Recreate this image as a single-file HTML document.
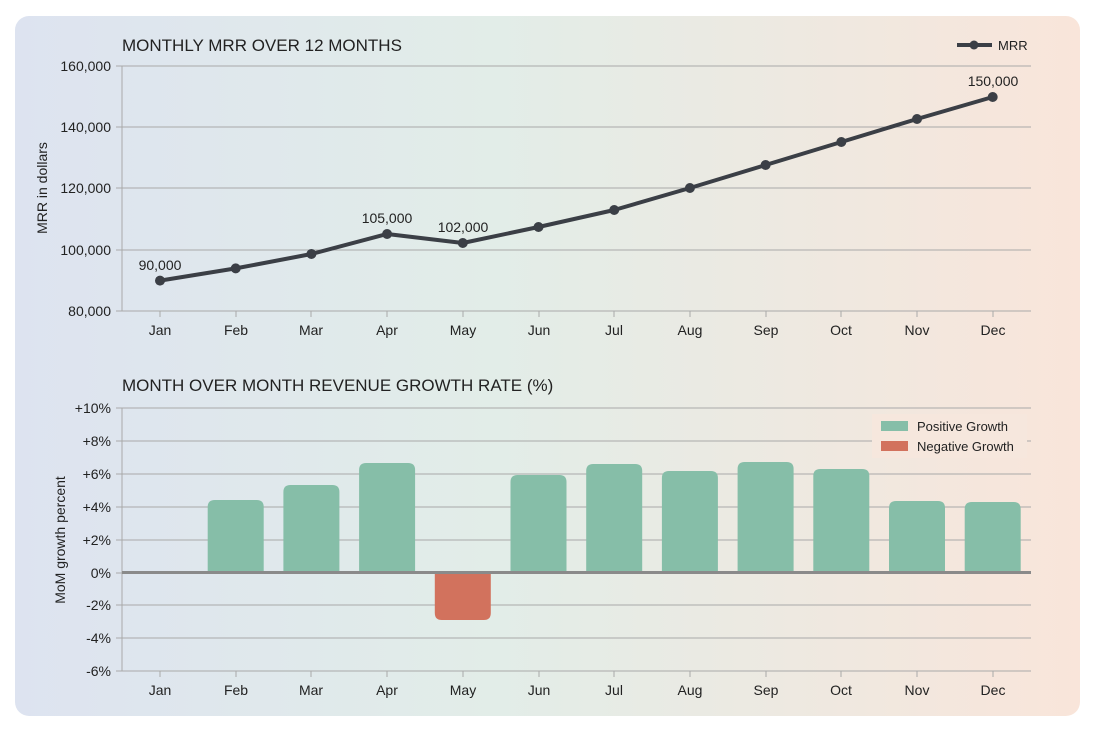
<!DOCTYPE html>
<html><head><meta charset="utf-8"><style>
html,body{margin:0;padding:0;background:#fff;width:1096px;height:735px;overflow:hidden}
svg{display:block;font-family:"Liberation Sans",sans-serif}
</style></head><body>
<svg width="1096" height="735" viewBox="0 0 1096 735">
<defs>
<linearGradient id="bg" x1="0" y1="0" x2="1" y2="0">
<stop offset="0" stop-color="#dde3f0"/>
<stop offset="0.45" stop-color="#e2ede8"/>
<stop offset="1" stop-color="#f9e5da"/>
</linearGradient>
</defs>
<rect x="15" y="16" width="1065" height="700" rx="14" fill="url(#bg)"/>
<g fill="#222" font-size="17"><text x="122" y="51">MONTHLY MRR OVER 12 MONTHS</text>
<text x="122" y="391">MONTH OVER MONTH REVENUE GROWTH RATE (%)</text></g>
<!-- top grid -->
<g stroke="#a9a9a9" stroke-width="1">
<line x1="122" y1="66" x2="1031" y2="66"/><line x1="122" y1="127" x2="1031" y2="127"/><line x1="122" y1="188" x2="1031" y2="188"/><line x1="122" y1="250" x2="1031" y2="250"/><line x1="122" y1="311" x2="1031" y2="311"/>
<line x1="122" y1="66" x2="122" y2="311"/>
<line x1="116" y1="66" x2="122" y2="66"/><line x1="116" y1="127" x2="122" y2="127"/><line x1="116" y1="188" x2="122" y2="188"/><line x1="116" y1="250" x2="122" y2="250"/><line x1="116" y1="311" x2="122" y2="311"/>
</g>
<g font-size="14" fill="#222" text-anchor="end">
<text x="111" y="71">160,000</text><text x="111" y="132">140,000</text><text x="111" y="193">120,000</text><text x="111" y="255">100,000</text><text x="111" y="316">80,000</text></g>
<text transform="translate(47,188) rotate(-90)" text-anchor="middle" font-size="14" fill="#222">MRR in dollars</text>
<g font-size="14" fill="#222" text-anchor="middle">
<text x="160" y="335">Jan</text><text x="236" y="335">Feb</text><text x="311" y="335">Mar</text><text x="387" y="335">Apr</text><text x="463" y="335">May</text><text x="539" y="335">Jun</text><text x="614" y="335">Jul</text><text x="690" y="335">Aug</text><text x="766" y="335">Sep</text><text x="841" y="335">Oct</text><text x="917" y="335">Nov</text><text x="993" y="335">Dec</text>
</g>
<polyline fill="none" stroke="#3b3f46" stroke-width="4" stroke-linejoin="round" points="160,280.6 235.7,268.4 311.4,254 387.1,234 462.8,243 538.5,227 614.2,210 689.9,188 765.6,165 841.3,142 917,119 992.7,97"/>
<g fill="#3b3f46">
<circle cx="160" cy="280.6" r="5"/><circle cx="235.7" cy="268.4" r="5"/><circle cx="311.4" cy="254" r="5"/><circle cx="387.1" cy="234" r="5"/><circle cx="462.8" cy="243" r="5"/><circle cx="538.5" cy="227" r="5"/><circle cx="614.2" cy="210" r="5"/><circle cx="689.9" cy="188" r="5"/><circle cx="765.6" cy="165" r="5"/><circle cx="841.3" cy="142" r="5"/><circle cx="917" cy="119" r="5"/><circle cx="992.7" cy="97" r="5"/>
</g>
<g font-size="14" fill="#222" text-anchor="middle">
<text x="160" y="270">90,000</text><text x="387" y="223">105,000</text><text x="463" y="232">102,000</text><text x="993" y="86">150,000</text></g>
<line x1="957" y1="45" x2="992" y2="45" stroke="#3b3f46" stroke-width="4"/><circle cx="974" cy="45" r="4.5" fill="#3b3f46"/>
<text x="998" y="50" font-size="13" fill="#222">MRR</text>
<!-- bottom grid -->
<g stroke="#a9a9a9" stroke-width="1">
<line x1="122" y1="408" x2="1031" y2="408"/><line x1="122" y1="441" x2="1031" y2="441"/><line x1="122" y1="474" x2="1031" y2="474"/><line x1="122" y1="507" x2="1031" y2="507"/><line x1="122" y1="540" x2="1031" y2="540"/><line x1="122" y1="605" x2="1031" y2="605"/><line x1="122" y1="638" x2="1031" y2="638"/><line x1="122" y1="671" x2="1031" y2="671"/>
<line x1="122" y1="408" x2="122" y2="671"/>
<line x1="116" y1="408" x2="122" y2="408"/><line x1="116" y1="441" x2="122" y2="441"/><line x1="116" y1="474" x2="122" y2="474"/><line x1="116" y1="507" x2="122" y2="507"/><line x1="116" y1="540" x2="122" y2="540"/><line x1="116" y1="573" x2="122" y2="573"/><line x1="116" y1="605" x2="122" y2="605"/><line x1="116" y1="638" x2="122" y2="638"/><line x1="116" y1="671" x2="122" y2="671"/>
<line x1="160" y1="671" x2="160" y2="677"/><line x1="236" y1="671" x2="236" y2="677"/><line x1="311" y1="671" x2="311" y2="677"/><line x1="387" y1="671" x2="387" y2="677"/><line x1="463" y1="671" x2="463" y2="677"/><line x1="539" y1="671" x2="539" y2="677"/><line x1="614" y1="671" x2="614" y2="677"/><line x1="690" y1="671" x2="690" y2="677"/><line x1="766" y1="671" x2="766" y2="677"/><line x1="841" y1="671" x2="841" y2="677"/><line x1="917" y1="671" x2="917" y2="677"/><line x1="993" y1="671" x2="993" y2="677"/>
<line x1="160" y1="311" x2="160" y2="317"/><line x1="236" y1="311" x2="236" y2="317"/><line x1="311" y1="311" x2="311" y2="317"/><line x1="387" y1="311" x2="387" y2="317"/><line x1="463" y1="311" x2="463" y2="317"/><line x1="539" y1="311" x2="539" y2="317"/><line x1="614" y1="311" x2="614" y2="317"/><line x1="690" y1="311" x2="690" y2="317"/><line x1="766" y1="311" x2="766" y2="317"/><line x1="841" y1="311" x2="841" y2="317"/><line x1="917" y1="311" x2="917" y2="317"/><line x1="993" y1="311" x2="993" y2="317"/>
</g>
<g font-size="14" fill="#222" text-anchor="end">
<text x="111" y="413">+10%</text><text x="111" y="446">+8%</text><text x="111" y="479">+6%</text><text x="111" y="512">+4%</text><text x="111" y="545">+2%</text><text x="111" y="578">0%</text><text x="111" y="610">-2%</text><text x="111" y="643">-4%</text><text x="111" y="676">-6%</text></g>
<text transform="translate(65,540) rotate(-90)" text-anchor="middle" font-size="14" fill="#222">MoM growth percent</text>
<g fill="#86bea8">
<path d="M207.7,572V507Q207.7,500 214.7,500H256.7Q263.7,500 263.7,507V572Z"/>
<path d="M283.4,572V492Q283.4,485 290.4,485H332.4Q339.4,485 339.4,492V572Z"/>
<path d="M359.1,572V470Q359.1,463 366.1,463H408.1Q415.1,463 415.1,470V572Z"/>
<path d="M510.5,572V482Q510.5,475 517.5,475H559.5Q566.5,475 566.5,482V572Z"/>
<path d="M586.2,572V471Q586.2,464 593.2,464H635.2Q642.2,464 642.2,471V572Z"/>
<path d="M661.9,572V478Q661.9,471 668.9,471H710.9Q717.9,471 717.9,478V572Z"/>
<path d="M737.6,572V469Q737.6,462 744.6,462H786.6Q793.6,462 793.6,469V572Z"/>
<path d="M813.3,572V476Q813.3,469 820.3,469H862.3Q869.3,469 869.3,476V572Z"/>
<path d="M889,572V508Q889,501 896,501H938Q945,501 945,508V572Z"/>
<path d="M964.7,572V509Q964.7,502 971.7,502H1013.7Q1020.7,502 1020.7,509V572Z"/>
</g>
<path fill="#d2725d" d="M434.8,573V613Q434.8,620 441.8,620H483.8Q490.8,620 490.8,613V573Z"/>
<line x1="122" y1="572.5" x2="1031" y2="572.5" stroke="#8a8a8a" stroke-width="3"/>
<g font-size="14" fill="#222" text-anchor="middle">
<text x="160" y="695">Jan</text><text x="236" y="695">Feb</text><text x="311" y="695">Mar</text><text x="387" y="695">Apr</text><text x="463" y="695">May</text><text x="539" y="695">Jun</text><text x="614" y="695">Jul</text><text x="690" y="695">Aug</text><text x="766" y="695">Sep</text><text x="841" y="695">Oct</text><text x="917" y="695">Nov</text><text x="993" y="695">Dec</text>
</g>
<rect x="872" y="414" width="155" height="44" fill="#f6e7dd"/>
<rect x="881" y="421" width="27" height="10" fill="#86bea8"/>
<rect x="881" y="441" width="27" height="10" fill="#d2725d"/>
<g font-size="13" fill="#222"><text x="917" y="431">Positive Growth</text><text x="917" y="451">Negative Growth</text></g>
</svg>
</body></html>
